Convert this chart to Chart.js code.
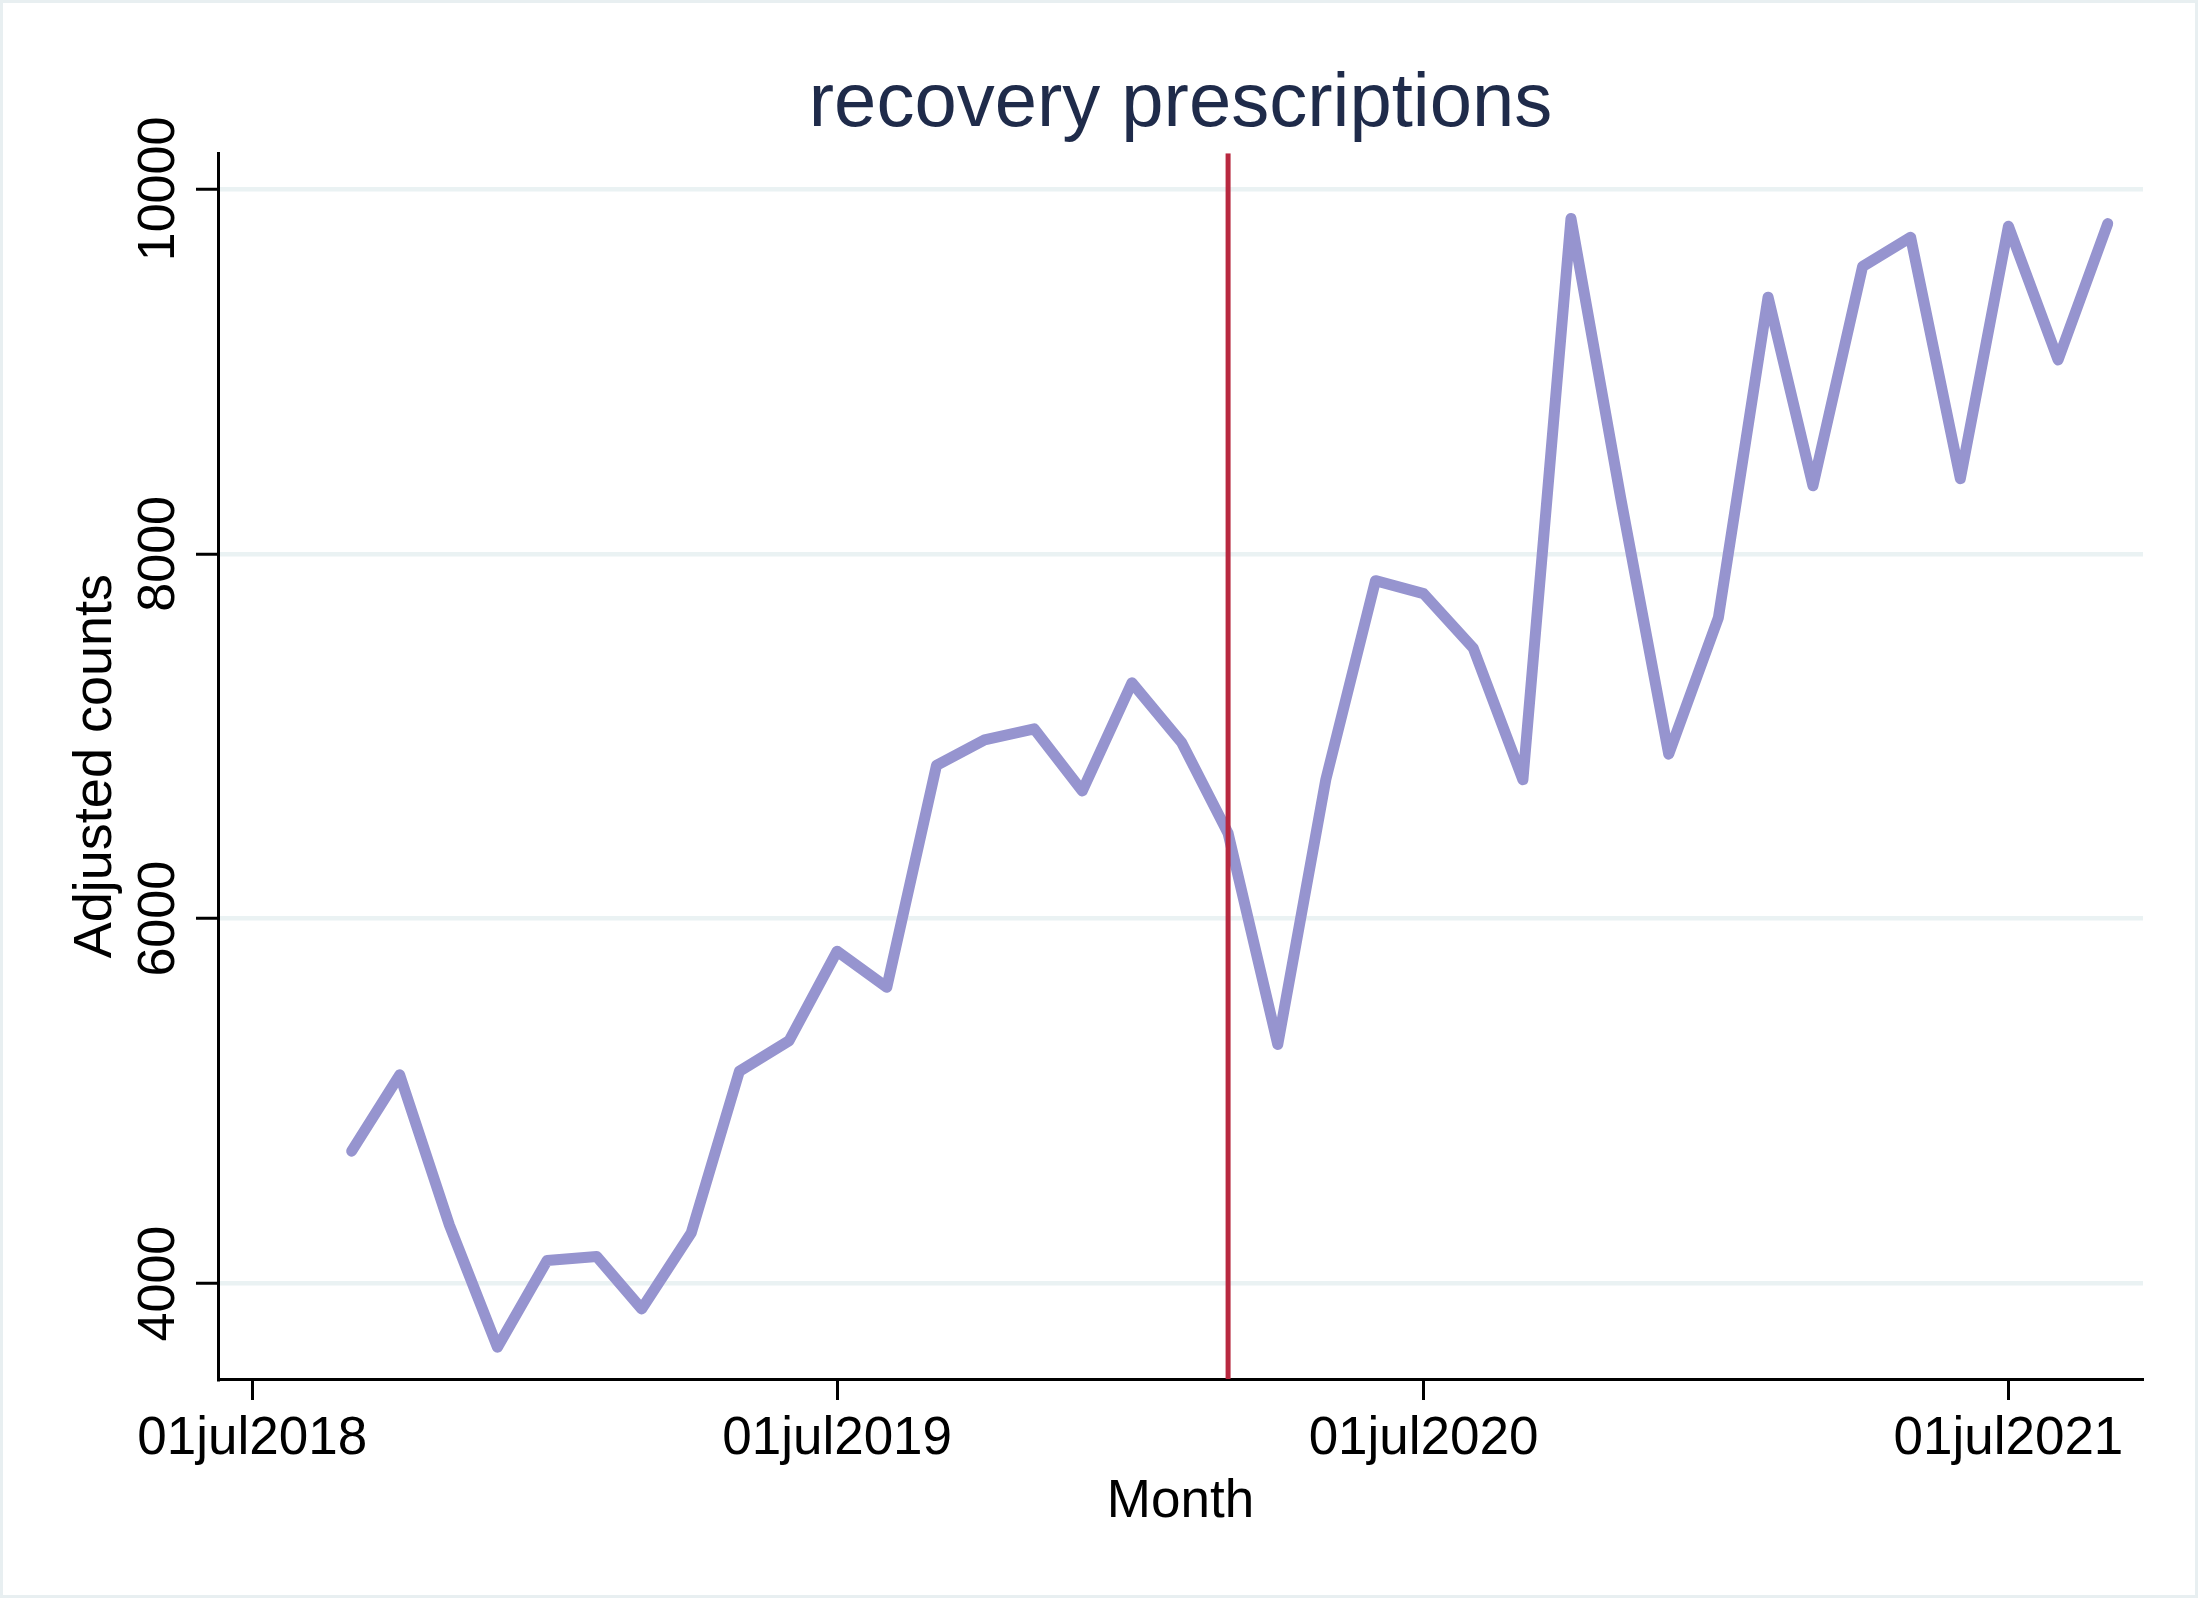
<!DOCTYPE html>
<html>
<head>
<meta charset="utf-8">
<script src="https://cdn.jsdelivr.net/npm/chart.js@4/dist/chart.umd.min.js"></script>
<style>
  html, body { margin: 0; padding: 0; background: #fff; }
  #wrap { width: 2198px; height: 1598px; position: relative; }
</style>
</head>
<body>
<div id="wrap"><canvas id="chart"></canvas></div>
<script>
// data
const months = [
    '2018-09', '2018-10', '2018-11', '2018-12', '2019-01', '2019-02', '2019-03', '2019-04',
    '2019-05', '2019-06', '2019-07', '2019-08', '2019-09', '2019-10', '2019-11', '2019-12',
    '2020-01', '2020-02', '2020-03', '2020-04', '2020-05', '2020-06', '2020-07', '2020-08',
    '2020-09', '2020-10', '2020-11', '2020-12', '2021-01', '2021-02', '2021-03', '2021-04',
    '2021-05', '2021-06', '2021-07', '2021-08', '2021-09'
];
const adjustedCounts = [
    4726, 5144, 4321, 3651, 4126, 4148, 3861, 4279,
    5164, 5331, 5822, 5624, 6840, 6980, 7041, 6700,
    7293, 6966, 6469, 5311, 6763, 7853, 7782, 7483,
    6762, 9838, 8307, 6902, 7651, 9407, 8373, 9575,
    9735, 8412, 9796, 9063, 9810
];
const eventMonth = '2020-03';
const xTickDates = ['2018-07', '2019-07', '2020-07', '2021-07'];
const xTickLabels = ['01jul2018', '01jul2019', '01jul2020', '01jul2021'];
const yTicks = [4000, 6000, 8000, 10000];

// month string -> day number, so the axis runs on days like Stata %td
function toDay(m) {
    const [y, mo] = m.split('-').map(Number);
    return Date.UTC(y, mo - 1, 1) / 86400000;
}

const FONT = '"Liberation Sans", Arial, sans-serif';
const yMin = 3477, yMax = 10196;
const xMin = toDay('2018-07') - 21.4;
const xMax = toDay('2021-07') + 84;

const background = {
    id: 'background',
    beforeDraw(chart) {
        const ctx = chart.ctx;
        ctx.save();
        ctx.fillStyle = '#ffffff';
        ctx.fillRect(0, 0, chart.width, chart.height);
        ctx.strokeStyle = '#e8eff1';
        ctx.lineWidth = 3;
        ctx.strokeRect(1.5, 1.5, chart.width - 3, chart.height - 3);
        ctx.restore();
    }
};

new Chart(document.getElementById('chart'), {
    type: 'line',
    data: {
        datasets: [
            {
                data: months.map((m, i) => ({ x: toDay(m), y: adjustedCounts[i] })),
                borderColor: '#9694cf',
                borderWidth: 11,
                borderJoinStyle: 'round',
                borderCapStyle: 'round',
                pointRadius: 0,
                tension: 0,
                order: 1
            },
            {
                data: [{ x: toDay(eventMonth), y: yMin }, { x: toDay(eventMonth), y: yMax }],
                borderColor: '#b8283f',
                borderWidth: 5,
                pointRadius: 0,
                order: 0
            }
        ]
    },
    options: {
        responsive: true,
        maintainAspectRatio: false,
        devicePixelRatio: 1,
        animation: false,
        layout: { padding: { left: 0, top: 0, right: 55, bottom: 0 } },
        plugins: {
            legend: { display: false },
            tooltip: { enabled: false },
            title: {
                display: true,
                text: 'recovery prescriptions',
                color: '#1f2b4a',
                fullSize: false,
                font: { family: FONT, size: 76, weight: 'normal' },
                padding: { top: 59, bottom: 3 }
            }
        },
        scales: {
            x: {
                type: 'linear',
                min: xMin,
                max: xMax,
                afterBuildTicks(scale) {
                    scale.ticks = xTickDates.map(d => ({ value: toDay(d) }));
                },
                afterFit(scale) { scale.height = 219; },
                ticks: {
                    color: '#000',
                    font: { family: FONT, size: 53 },
                    padding: 8,
                    maxRotation: 0,
                    minRotation: 0,
                    callback: (v, i) => xTickLabels[i]
                },
                grid: {
                    drawOnChartArea: false,
                    tickColor: '#000',
                    tickLength: 21,
                    tickWidth: 3
                },
                border: { color: '#000', width: 3 },
                title: {
                    display: true,
                    text: 'Month',
                    color: '#000',
                    font: { family: FONT, size: 53 },
                    padding: { top: 64, bottom: 64 }
                }
            },
            y: {
                type: 'linear',
                min: yMin,
                max: yMax,
                afterBuildTicks(scale) {
                    scale.ticks = yTicks.map(v => ({ value: v }));
                },
                afterFit(scale) { scale.width = 218; },
                ticks: {
                    color: '#000',
                    font: { family: FONT, size: 52 },
                    minRotation: 90,
                    maxRotation: 90,
                    crossAlign: 'center',
                    padding: -36,
                    callback: v => String(v)
                },
                grid: {
                    color: '#eaf2f3',
                    lineWidth: 4.5,
                    tickColor: '#000',
                    tickLength: 22,
                    tickWidth: 3
                },
                border: { color: '#000', width: 3 },
                title: {
                    display: true,
                    text: 'Adjusted counts',
                    color: '#000',
                    font: { family: FONT, size: 54 },
                    padding: { top: 64, bottom: 64 }
                }
            }
        }
    },
    plugins: [background]
});
</script>
</body>
</html>
